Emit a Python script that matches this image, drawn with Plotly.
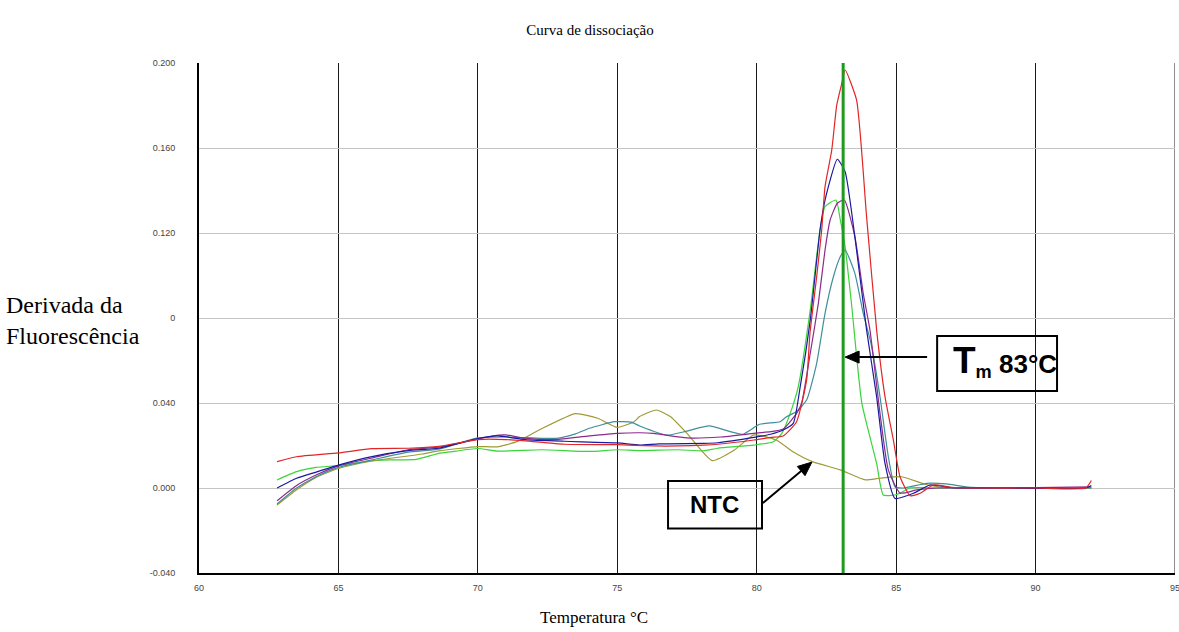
import math
import plotly.graph_objects as go

# Melting-curve derivative readings, one pair of lists per well
temp_red = [62.8, 63.5, 65.0, 66.2, 67.5, 68.6, 70.0, 71.0, 71.7, 73.1, 75.0, 76.3, 77.2, 78.1, 78.6,
            79.9, 80.5, 80.95, 81.43, 81.79, 81.91, 82.15, 82.33, 82.45, 82.69, 82.87, 83.05, 83.17,
            83.58, 83.94, 84.3, 84.6, 84.9, 85.14, 85.5, 85.86, 86.33, 87.0, 88.0, 90.0, 91.8, 92.0]
deriv_red = [0.0124, 0.0147, 0.0165, 0.0185, 0.0187, 0.0196, 0.0228, 0.0228, 0.0222, 0.0206, 0.0204,
             0.0198, 0.0198, 0.0202, 0.0206, 0.0226, 0.0238, 0.0245, 0.0312, 0.0508, 0.0729, 0.0994,
             0.1214, 0.1418, 0.159, 0.1802, 0.1904, 0.1967, 0.1826, 0.1277, 0.0744, 0.043, 0.0226,
             0.0053, -0.0036, -0.0025, 0.0014, 0.0003, 0.0, 0.0, 0.0, 0.0035]

temp_blue = [62.8, 63.5, 64.2, 65.0, 66.2, 67.5, 68.6, 70.0, 70.7, 71.7, 73.1, 75.0, 75.8, 76.5, 78.1,
             78.6, 79.9, 80.5, 80.95, 81.31, 81.56, 81.92, 82.27, 82.45, 82.89, 83.17, 83.52, 83.94,
             84.3, 84.6, 84.96, 85.62, 86.21, 87.0, 89.0, 91.8, 92.0]
deriv_blue = [0.0, 0.0046, 0.0075, 0.0108, 0.0148, 0.0176, 0.0187, 0.0233, 0.0245, 0.0228, 0.0220,
              0.0212, 0.0202, 0.0208, 0.021, 0.0213, 0.0238, 0.0253, 0.0273, 0.0304, 0.0477, 0.079,
              0.1214, 0.1355, 0.1547, 0.1489, 0.1183, 0.0744, 0.043, 0.0116, -0.0049, -0.0025,
              0.0014, 0.0002, 0.0, 0.0, 0.0012]

temp_purple = [62.8, 63.5, 64.2, 65.0, 66.2, 67.5, 68.6, 70.0, 70.55, 71.0, 71.6, 72.4, 72.8, 74.0,
               75.0, 75.8, 76.3, 77.5, 78.7, 79.9, 80.5, 80.95, 81.43, 81.61, 81.92, 82.21, 82.45,
               82.63, 82.89, 83.14, 83.52, 83.82, 84.06, 84.42, 84.72, 85.14, 85.74, 86.5, 89.0, 92.0]
deriv_purple = [-0.0060, 0.0012, 0.0061, 0.0104, 0.0141, 0.0180, 0.0192, 0.0230, 0.0246, 0.0250,
                0.0236, 0.0228, 0.0228, 0.0245, 0.0257, 0.0260, 0.0257, 0.0236, 0.0240, 0.0257,
                0.0265, 0.0278, 0.0351, 0.0399, 0.0634, 0.0869, 0.112, 0.126, 0.134, 0.1355,
                0.1183, 0.0916, 0.0744, 0.0353, 0.0085, -0.0024, -0.0009, 0.0, 0.0, 0.0005]

temp_lime = [62.8, 63.5, 64.2, 65.0, 66.2, 66.85, 67.8, 68.6, 69.0, 70.0, 70.7, 72.3, 74.0, 75.0,
             75.8, 77.2, 78.1, 78.6, 79.9, 80.6, 80.9, 81.2, 81.49, 81.92, 82.27, 82.45, 82.84, 83.0,
             83.17, 83.41, 83.77, 84.3, 84.54, 84.96, 85.14, 85.5, 86.5, 89.0, 92.0]
deriv_lime = [0.0038, 0.0077, 0.0097, 0.0106, 0.0128, 0.0132, 0.0135, 0.0163, 0.0170, 0.0186, 0.0174,
              0.0180, 0.0172, 0.0180, 0.0176, 0.0180, 0.0175, 0.0187, 0.0202, 0.0218, 0.0257, 0.0351,
              0.0477, 0.0838, 0.1214, 0.1324, 0.1355, 0.126, 0.1136, 0.0853, 0.0399, 0.0116, -0.0033,
              -0.0033, -0.0024, 0.0, 0.0, 0.0, 0.0]

temp_teal = [62.8, 63.5, 64.2, 65.0, 66.2, 67.5, 68.6, 70.0, 71.0, 72.8, 73.5, 74.0, 74.9, 75.5, 75.8,
             76.8, 77.5, 78.3, 79.5, 80.1, 80.84, 81.07, 81.43, 81.79, 82.15, 82.45, 82.75, 83.0,
             83.17, 83.52, 83.82, 84.1, 84.42, 84.72, 84.96, 85.26, 86.1, 86.8, 87.5, 88.5, 92.0]
deriv_teal = [-0.0075, 0.0, 0.0053, 0.0097, 0.0132, 0.0169, 0.0183, 0.0236, 0.0240, 0.0234, 0.0255,
              0.0281, 0.0312, 0.0310, 0.0292, 0.0249, 0.0268, 0.0292, 0.0253, 0.0300, 0.0312, 0.0335,
              0.036, 0.0414, 0.0587, 0.0822, 0.0994, 0.1089, 0.112, 0.101, 0.0822, 0.068, 0.043,
              0.0147, 0.0006, 0.0, 0.0022, 0.0019, 0.0006, 0.0, 0.0]

temp_ntc = [62.8, 63.5, 64.2, 65.0, 66.2, 68.0, 68.6, 70.0, 70.7, 71.4, 72.2, 73.5, 74.3, 75.0, 75.6,
            75.8, 76.4, 76.9, 77.5, 78.4, 79.2, 79.9, 80.7, 81.3, 82.0, 83.0, 83.9, 84.4, 85.2, 86.0,
            86.5, 88.0, 92.0]
deriv_ntc = [-0.008, -0.0008, 0.005, 0.0092, 0.0127, 0.0160, 0.0175, 0.0195, 0.0194, 0.0218, 0.0273,
             0.0350, 0.0328, 0.0285, 0.0312, 0.0336, 0.0367, 0.0336, 0.0257, 0.0129, 0.0179, 0.0250,
             0.0226, 0.0171, 0.0124, 0.0085, 0.0038, 0.0046, 0.0053, 0.0019, 0.0006, 0.0, 0.0]

tm_value = 83.1

x_ticks = [60, 65, 70, 75, 80, 85, 90, 95]
y_ticks = [-0.04, 0.0, 0.04, 0.08, 0.12, 0.16, 0.2]
y_tick_text = ["-0.040", "0.000", "0.040", "0", "0.120", "0.160", "0.200"]

X_RANGE = [60, 95]
Y_RANGE = [-0.04, 0.2]
W, H = 1179, 632
M_L, M_R, M_T, M_B = 199, 4, 63, 59
PX_PER_X = (W - M_L - M_R) / (X_RANGE[1] - X_RANGE[0])
PX_PER_Y = (H - M_T - M_B) / (Y_RANGE[1] - Y_RANGE[0])

series = [
    (temp_lime, deriv_lime, "#3ad43a"),
    (temp_ntc, deriv_ntc, "#a09a36"),
    (temp_teal, deriv_teal, "#3f8f9a"),
    (temp_purple, deriv_purple, "#8c2a8c"),
    (temp_blue, deriv_blue, "#1a1aa0"),
    (temp_red, deriv_red, "#e02626"),
]

fig = go.Figure()
for xs, ys, col in series:
    fig.add_trace(go.Scatter(x=xs, y=ys, mode="lines",
                             line=dict(color=col, width=1.2, shape="spline", smoothing=0.5),
                             hoverinfo="skip", showlegend=False))

# Right-hand border at the last x tick
fig.add_shape(type="line", x0=x_ticks[-1], x1=x_ticks[-1], y0=Y_RANGE[0], y1=Y_RANGE[1],
              line=dict(color="#1a1a1a", width=1), layer="below")

# Tm marker
fig.add_shape(type="line", x0=tm_value, x1=tm_value, y0=Y_RANGE[0], y1=Y_RANGE[1],
              line=dict(color="#1f9a1f", width=3), layer="above")


def add_arrow(x_head, y_head, dx_px, dy_px, head_len=14, head_half=6):
    """Arrow whose tip sits at a data point; tail given as a screen offset in px."""
    length = math.hypot(dx_px, dy_px)
    ux, uy = dx_px / length, dy_px / length          # unit vector tip -> tail (screen)
    nx, ny = -uy, ux

    def to_data(sx, sy):
        return x_head + sx / PX_PER_X, y_head - sy / PX_PER_Y

    tail = to_data(dx_px, dy_px)
    base = to_data(ux * head_len, uy * head_len)
    b1 = to_data(ux * head_len + nx * head_half, uy * head_len + ny * head_half)
    b2 = to_data(ux * head_len - nx * head_half, uy * head_len - ny * head_half)
    fig.add_shape(type="line", x0=tail[0], y0=tail[1], x1=base[0], y1=base[1],
                  line=dict(color="black", width=2), layer="above")
    fig.add_shape(type="path",
                  path=f"M {x_head} {y_head} L {b1[0]} {b1[1]} L {b2[0]} {b2[1]} Z",
                  fillcolor="black", line=dict(color="black", width=1), layer="above")


# Tm label box and arrow
fig.add_shape(type="rect", x0=86.47, x1=90.77, y0=0.0456, y1=0.0715,
              line=dict(color="black", width=2), fillcolor="rgba(0,0,0,0)", layer="above")
fig.add_annotation(x=86.95, y=0.0598, xanchor="left", yanchor="middle", showarrow=False,
                   text=f"<b><span style='font-size:37px'>T</span><sub>m</sub> {tm_value:.0f}°C</b>",
                   font=dict(family="Arial, Liberation Sans", size=26, color="black"))
add_arrow(tm_value + 0.07, 0.0616, 82, 0)

# NTC label box and arrow
fig.add_shape(type="rect", x0=76.82, x1=80.19, y0=-0.0190, y1=0.0033,
              line=dict(color="black", width=2), fillcolor="rgba(0,0,0,0)", layer="above")
fig.add_annotation(x=78.5, y=-0.0078, showarrow=False, text="<b>NTC</b>",
                   font=dict(family="Arial, Liberation Sans", size=24, color="black"))
add_arrow(81.98, 0.0122, -49, 41)

# Axis titles
fig.add_annotation(xref="paper", yref="paper", x=(4 - M_L) / (W - M_L - M_R), y=0.496,
                   xanchor="left", yanchor="middle", align="left", showarrow=False,
                   text="Derivada da<br>Fluorescência",
                   font=dict(family="Liberation Serif, Times New Roman", size=24, color="black"))
fig.add_annotation(xref="paper", yref="paper", x=(594 - M_L) / (W - M_L - M_R),
                   y=-(617 - (H - M_B)) / (H - M_T - M_B),
                   xanchor="center", yanchor="middle", showarrow=False,
                   text="Temperatura °C",
                   font=dict(family="Liberation Serif, Times New Roman", size=17, color="black"))

fig.update_layout(
    width=W, height=H,
    margin=dict(l=M_L, r=M_R, t=M_T, b=M_B, autoexpand=False),
    paper_bgcolor="white", plot_bgcolor="white",
    title=dict(text="Curva de dissociação", x=590 / W, xref="container", xanchor="center",
               y=1 - 30 / H, yref="container", yanchor="middle",
               font=dict(family="Liberation Serif, Times New Roman", size=15, color="black")),
    xaxis=dict(range=X_RANGE, tickvals=x_ticks, ticktext=[str(v) for v in x_ticks],
               showgrid=True, gridcolor="#1a1a1a", gridwidth=1,
               showline=True, linecolor="black", linewidth=2, zeroline=False,
               ticks="", ticklabelstandoff=5, ticklabeloverflow="allow", automargin=False,
               tickfont=dict(family="Arial, Liberation Sans", size=9, color="#444")),
    yaxis=dict(range=Y_RANGE, tickvals=y_ticks, ticktext=y_tick_text,
               showgrid=True, gridcolor="#c4c4c4", gridwidth=1,
               showline=True, linecolor="black", linewidth=2, zeroline=False,
               ticks="", ticklabelstandoff=20, automargin=False,
               tickfont=dict(family="Arial, Liberation Sans", size=9, color="#444")),
)

fig.write_html("out.html")
